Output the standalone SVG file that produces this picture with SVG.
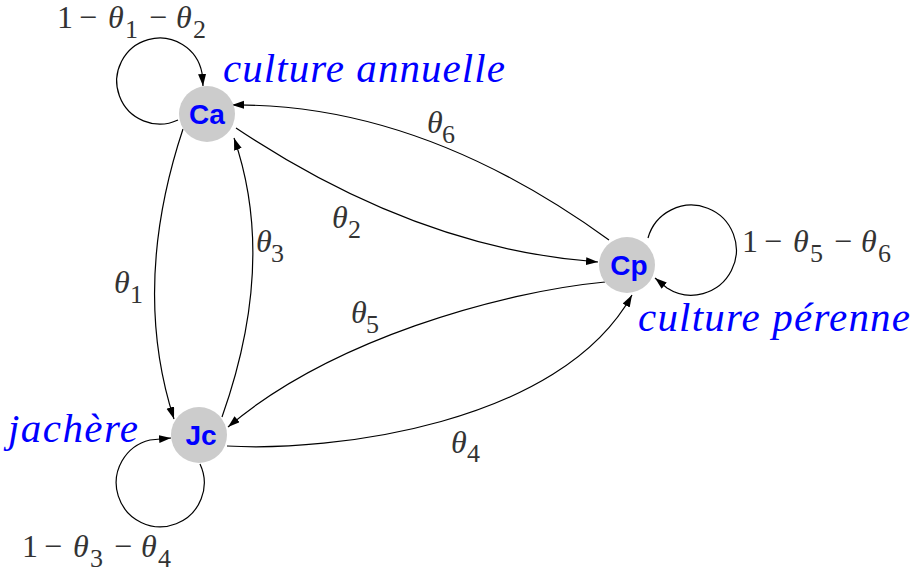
<svg xmlns="http://www.w3.org/2000/svg" width="915" height="577" viewBox="0 0 915 577">
<style>
.node circle{fill:#cccccc;stroke:none}
.node text{font-family:'Liberation Sans',Arial,sans-serif;font-weight:bold;font-size:28px;fill:#0000ff;text-anchor:middle}
.edge{fill:none;stroke:#000;stroke-width:1.2;marker-end:url(#ah)}
.lab{font-family:'Liberation Serif','Times New Roman',serif;font-size:32px;fill:#333333}
.v{font-style:italic}
.s{font-size:26px}
.name{font-family:'Liberation Serif','Times New Roman',serif;font-style:italic;font-size:41px;fill:#0000ff}
</style>
<defs>
<marker id="ah" markerUnits="userSpaceOnUse" markerWidth="13" markerHeight="9" refX="12" refY="4" orient="auto">
<path d="M0,0 L12,4 L0,8 z" fill="#000"/>
</marker>
</defs>
<rect width="915" height="577" fill="#fff"/>
<g id="connectors">
<path class="edge" d="M178,120 A43 43 0 1 1 202,73 L203,86"/>
<path class="edge" d="M648,238 A45 45 0 1 1 667,288 L655,278"/>
<path class="edge" d="M200,464 A44 44 0 1 1 150,440 L171,438"/>
<path class="edge" d="M183,129 Q131,286 174,419"/>
<path class="edge" d="M222,417 Q277,262 234,138"/>
<path class="edge" d="M236,128 Q417,249 598,262"/>
<path class="edge" d="M609,240 Q420,103 232,105"/>
<path class="edge" d="M605,282 C500,292 330,340 228,427"/>
<path class="edge" d="M227,446 C330,452 560,425 632,295"/>
</g>
<g id="Ca" class="node"><circle cx="207" cy="114" r="28"/><text x="207" y="124">Ca</text></g>
<g id="Cp" class="node"><circle cx="627" cy="265" r="28"/><text x="629" y="275">Cp</text></g>
<g id="Jc" class="node"><circle cx="199" cy="435" r="28"/><text x="201" y="445">Jc</text></g>
<g id="labels">
<text class="lab"><tspan x="57" y="28">1</tspan><tspan x="79" y="28">−</tspan><tspan class="v" x="108" y="28">θ</tspan><tspan class="s" x="125" y="38">1</tspan><tspan x="149" y="28">−</tspan><tspan class="v" x="176" y="28">θ</tspan><tspan class="s" x="193" y="38">2</tspan></text>
<text class="lab"><tspan x="742" y="252">1</tspan><tspan x="764" y="252">−</tspan><tspan class="v" x="793" y="252">θ</tspan><tspan class="s" x="810" y="262">5</tspan><tspan x="834" y="252">−</tspan><tspan class="v" x="861" y="252">θ</tspan><tspan class="s" x="878" y="262">6</tspan></text>
<text class="lab"><tspan x="22" y="557">1</tspan><tspan x="44" y="557">−</tspan><tspan class="v" x="73" y="557">θ</tspan><tspan class="s" x="90" y="567">3</tspan><tspan x="114" y="557">−</tspan><tspan class="v" x="141" y="557">θ</tspan><tspan class="s" x="158" y="567">4</tspan></text>
<text class="lab"><tspan class="v" x="114" y="293">θ</tspan><tspan class="s" x="130" y="303">1</tspan></text>
<text class="lab"><tspan class="v" x="332" y="228">θ</tspan><tspan class="s" x="348" y="238">2</tspan></text>
<text class="lab"><tspan class="v" x="256" y="252">θ</tspan><tspan class="s" x="271" y="262">3</tspan></text>
<text class="lab"><tspan class="v" x="451" y="453">θ</tspan><tspan class="s" x="467" y="462">4</tspan></text>
<text class="lab"><tspan class="v" x="351" y="323">θ</tspan><tspan class="s" x="366" y="333">5</tspan></text>
<text class="lab"><tspan class="v" x="427" y="133">θ</tspan><tspan class="s" x="442" y="143">6</tspan></text>
<text class="name" x="223" y="82" textLength="282" lengthAdjust="spacing">culture annuelle</text>
<text class="name" x="638" y="331" textLength="272" lengthAdjust="spacing">culture pérenne</text>
<text class="name" x="8" y="442" textLength="130" lengthAdjust="spacing">jachère</text>
</g>
</svg>
